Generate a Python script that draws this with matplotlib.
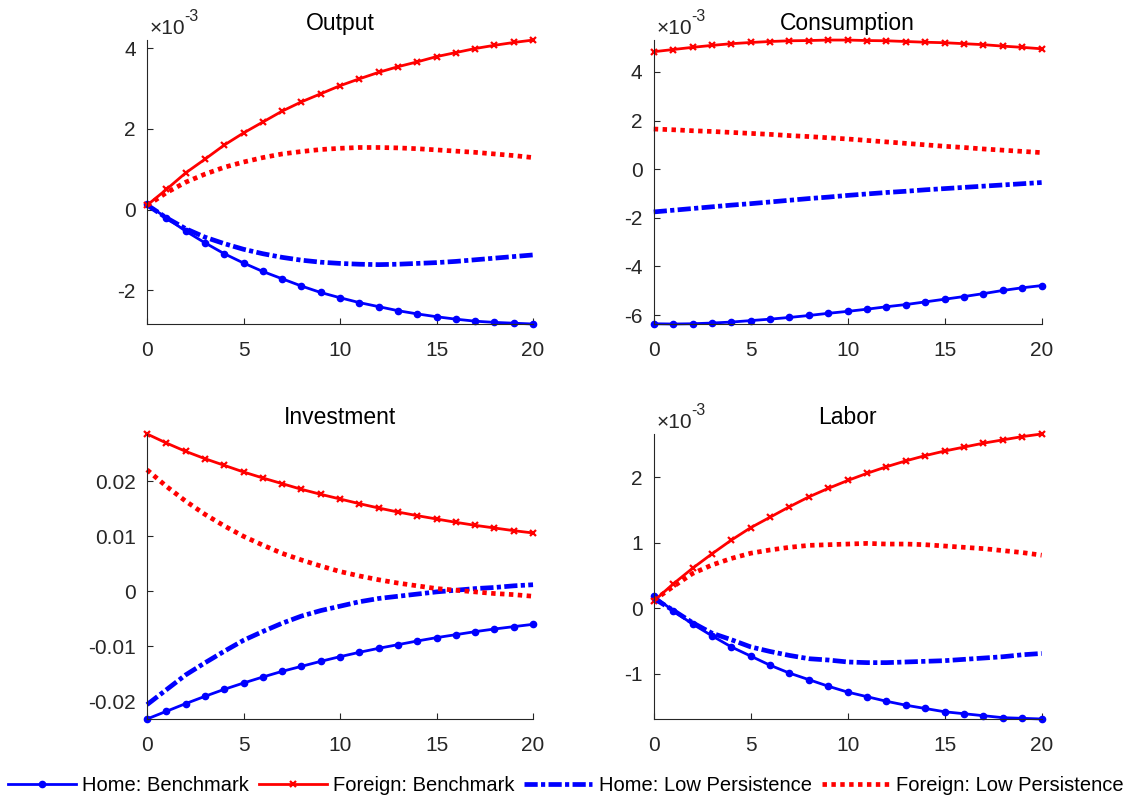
"""Impulse responses, home vs foreign, benchmark vs low persistence (2x2 panels)."""

import matplotlib
matplotlib.use("Agg")
import matplotlib.pyplot as plt
import numpy as np
from matplotlib.ticker import MultipleLocator, FuncFormatter

periods = np.arange(21)

# Output (x 1e-3)
output_home = [0.13, -0.20, -0.53, -0.82, -1.09, -1.32, -1.53, -1.71, -1.89, -2.05, -2.18,
               -2.30, -2.40, -2.50, -2.58, -2.65, -2.71, -2.76, -2.79, -2.81, -2.83]
output_foreign = [0.11, 0.50, 0.91, 1.25, 1.60, 1.90, 2.17, 2.44, 2.67, 2.87, 3.07,
                  3.24, 3.40, 3.54, 3.66, 3.79, 3.89, 3.99, 4.07, 4.14, 4.20]
output_home_low = [0.12, -0.20, -0.47, -0.68, -0.84, -0.98, -1.09, -1.18, -1.25, -1.30, -1.33,
                   -1.35, -1.36, -1.35, -1.33, -1.31, -1.28, -1.24, -1.20, -1.16, -1.12]
output_foreign_low = [0.10, 0.42, 0.68, 0.88, 1.05, 1.18, 1.29, 1.38, 1.44, 1.49, 1.52,
                      1.54, 1.54, 1.53, 1.51, 1.48, 1.45, 1.42, 1.38, 1.34, 1.29]

# Consumption (x 1e-3)
cons_home = [-6.36, -6.37, -6.36, -6.33, -6.29, -6.23, -6.17, -6.10, -6.02, -5.93, -5.85,
             -5.76, -5.66, -5.57, -5.46, -5.35, -5.24, -5.12, -4.99, -4.88, -4.79]
cons_foreign = [4.83, 4.92, 5.01, 5.09, 5.16, 5.21, 5.25, 5.28, 5.29, 5.31, 5.31,
                5.29, 5.28, 5.25, 5.22, 5.20, 5.16, 5.12, 5.06, 5.01, 4.95]
cons_home_low = [-1.76, -1.69, -1.62, -1.55, -1.48, -1.42, -1.35, -1.28, -1.21, -1.15, -1.08,
                 -1.02, -0.96, -0.91, -0.85, -0.80, -0.75, -0.70, -0.65, -0.60, -0.55]
cons_foreign_low = [1.65, 1.62, 1.58, 1.55, 1.51, 1.47, 1.43, 1.38, 1.34, 1.29, 1.24,
                    1.18, 1.12, 1.06, 1.00, 0.94, 0.89, 0.83, 0.78, 0.73, 0.68]

# Investment (levels)
inv_home = [-0.02321, -0.02182, -0.02042, -0.01909, -0.01782, -0.01667, -0.01558, -0.01455,
            -0.01364, -0.01273, -0.01188, -0.01109, -0.01036, -0.00970, -0.00903, -0.00842,
            -0.00788, -0.00733, -0.00685, -0.00642, -0.00600]
inv_foreign = [0.02861, 0.02697, 0.02545, 0.02412, 0.02291, 0.02170, 0.02061, 0.01958,
               0.01855, 0.01764, 0.01679, 0.01594, 0.01515, 0.01442, 0.01376, 0.01315,
               0.01255, 0.01200, 0.01152, 0.01103, 0.01061]
inv_home_low = [-0.0206, -0.0179, -0.0152, -0.0130, -0.0109, -0.0089, -0.0073, -0.0058,
                -0.0045, -0.0035, -0.0027, -0.0019, -0.0013, -0.0009, -0.0005, -0.0001,
                0.0002, 0.0005, 0.0007, 0.0010, 0.0012]
inv_foreign_low = [0.0221, 0.0191, 0.0164, 0.0140, 0.0119, 0.0100, 0.0084, 0.0069,
                   0.0057, 0.0046, 0.0036, 0.0028, 0.0021, 0.0015, 0.0010, 0.0005,
                   0.0002, -0.0001, -0.0004, -0.0006, -0.0009]

# Labor (x 1e-3)
labor_home = [0.19, -0.04, -0.24, -0.42, -0.59, -0.73, -0.87, -0.99, -1.09, -1.19, -1.28,
              -1.35, -1.42, -1.48, -1.53, -1.58, -1.61, -1.64, -1.67, -1.68, -1.69]
labor_foreign = [0.11, 0.37, 0.61, 0.83, 1.04, 1.23, 1.39, 1.55, 1.70, 1.83, 1.95,
                 2.06, 2.16, 2.25, 2.33, 2.40, 2.46, 2.52, 2.57, 2.62, 2.66]
labor_home_low = [0.15, -0.03, -0.22, -0.38, -0.48, -0.59, -0.66, -0.72, -0.77, -0.79, -0.82,
                  -0.83, -0.83, -0.82, -0.81, -0.80, -0.78, -0.76, -0.74, -0.71, -0.69]
labor_foreign_low = [0.12, 0.33, 0.53, 0.66, 0.76, 0.84, 0.89, 0.93, 0.96, 0.97, 0.98,
                     0.99, 0.98, 0.98, 0.97, 0.95, 0.93, 0.91, 0.88, 0.85, 0.81]

titles = ["Output", "Consumption", "Investment", "Labor"]
scales = [1e-3, 1e-3, 1.0, 1e-3]
tick_steps = [2e-3, 2e-3, 0.01, 1e-3]
series = [
    (output_home, output_foreign, output_home_low, output_foreign_low),
    (cons_home, cons_foreign, cons_home_low, cons_foreign_low),
    (inv_home, inv_foreign, inv_home_low, inv_foreign_low),
    (labor_home, labor_foreign, labor_home_low, labor_foreign_low),
]
labels = ["Home: Benchmark", "Foreign: Benchmark", "Home: Low Persistence",
          "Foreign: Low Persistence"]

plt.rcParams["font.family"] = ["Liberation Sans", "DejaVu Sans"]
plt.rcParams["axes.unicode_minus"] = False
plt.rcParams["lines.scale_dashes"] = False
ink = (0.15, 0.15, 0.15)

fig = plt.figure(figsize=(11.31, 8.01), dpi=100)
boxes = [(0.130, 0.5955, 0.3413, 0.3545), (0.578, 0.5955, 0.343, 0.3545),
         (0.130, 0.1024, 0.3413, 0.3558), (0.578, 0.1024, 0.343, 0.3558)]

handles = []
for box, title, scale, step, (hb, fb, hl, fl) in zip(boxes, titles, scales, tick_steps, series):
    ax = fig.add_axes(box)
    hb, fb, hl, fl = (np.asarray(s) * scale for s in (hb, fb, hl, fl))
    h1, = ax.plot(periods, hb, color="blue", lw=2, marker="o", ms=4.5, clip_on=False)
    h2, = ax.plot(periods, fb, color="red", lw=2, marker="x", ms=5, mew=1.6, clip_on=False)
    h3, = ax.plot(periods, hl, color="blue", lw=3.4, dashes=(9.5, 2.4, 3.0, 2.4),
                  clip_on=False)
    h4, = ax.plot(periods, fl, color="red", lw=3.4, dashes=(3.2, 3.2), clip_on=False)
    handles = [h1, h2, h3, h4]

    allv = np.concatenate([hb, fb, hl, fl])
    ax.set_xlim(0, 20)
    ax.set_ylim(allv.min(), allv.max())
    ax.xaxis.set_major_locator(MultipleLocator(5))
    ax.yaxis.set_major_locator(MultipleLocator(step))
    ax.yaxis.set_major_formatter(FuncFormatter(lambda v, p, s=scale: f"{round(v / s, 6):g}"))
    if scale != 1.0:
        # exponent label above the y axis, MATLAB style
        ax.annotate("\u00d710", xy=(0, 1), xycoords="axes fraction", xytext=(2, 4),
                    textcoords="offset points", fontsize=15, color=ink, va="baseline")
        ax.annotate("-3", xy=(0, 1), xycoords="axes fraction", xytext=(27, 14),
                    textcoords="offset points", fontsize=11.5, color=ink, va="baseline")

    for side in ("top", "right"):
        ax.spines[side].set_visible(False)
    for side in ("left", "bottom"):
        ax.spines[side].set_color(ink)
        ax.spines[side].set_linewidth(0.8)
    ax.tick_params(direction="in", length=4, width=0.8, color=ink, labelcolor=ink,
                   labelsize=15)
    ax.tick_params(axis="x", pad=12)
    ax.tick_params(axis="y", pad=8)
    ax.set_title(title, fontsize=16.5, color="black", pad=7)

fig.legend(handles, labels, loc="center", bbox_to_anchor=(0.5, 0.019), ncol=4,
           frameon=False, numpoints=1, handlelength=3.38, handletextpad=0.3,
           columnspacing=0.5, borderpad=0.2, fontsize=14.5)

fig.savefig("out.png", dpi=100)
